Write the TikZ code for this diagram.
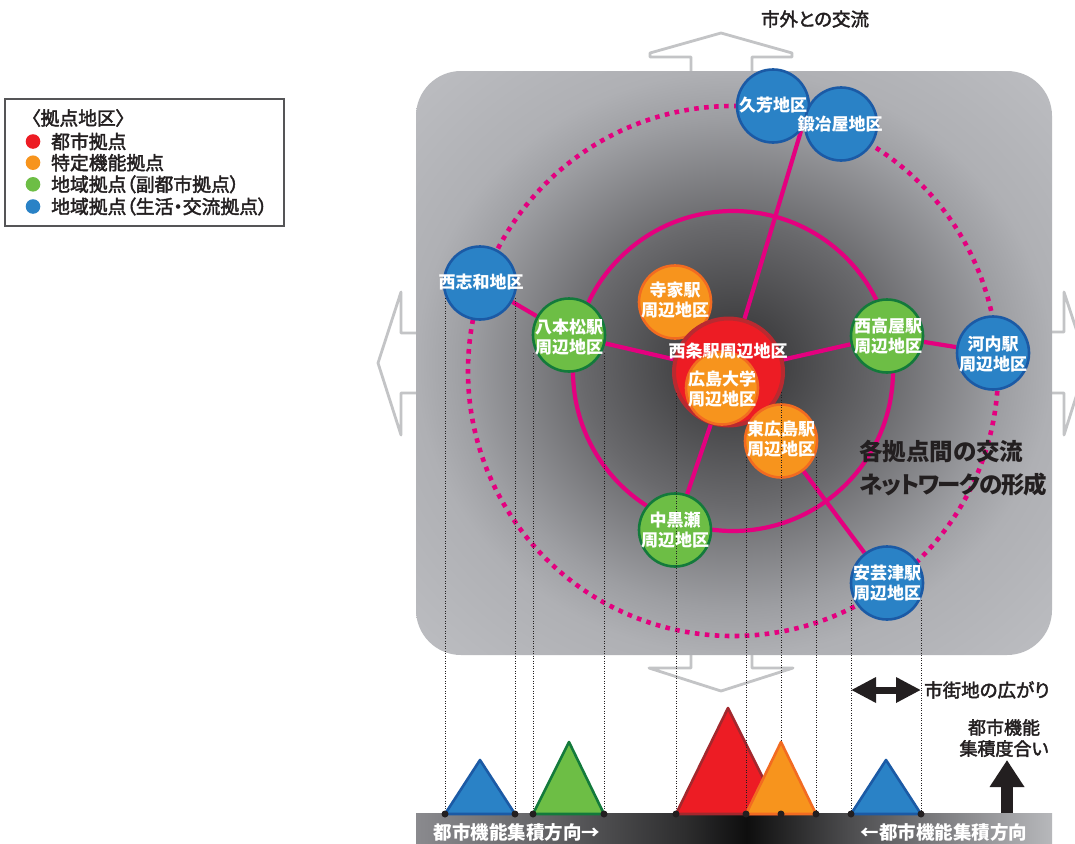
\documentclass[tikz,border=0pt]{standalone}
\usepackage{fontspec}
\setmainfont{Noto Sans CJK JP}[RawFeature=+palt]
\newfontfamily\jpm{Noto Sans CJK JP}[RawFeature=+palt, FakeBold=2.2]
\usetikzlibrary{arrows.meta,shapes.geometric}
\definecolor{mag}{HTML}{E4007F}
\definecolor{nodeB}{HTML}{2A82C6}
\definecolor{nodeBd}{HTML}{1B5AA5}
\definecolor{nodeG}{HTML}{6DBE45}
\definecolor{nodeGd}{HTML}{137A3B}
\definecolor{nodeO}{HTML}{F7941D}
\definecolor{nodeOd}{HTML}{F26B21}
\definecolor{nodeR}{HTML}{ED1C24}
\definecolor{nodeRd}{HTML}{B92A30}
\definecolor{triRd}{HTML}{A3282D}
\definecolor{arrG}{HTML}{C3C4C6}
\definecolor{txt}{HTML}{231F20}
\definecolor{legB}{HTML}{555557}
\definecolor{bgA}{HTML}{38383A}
\definecolor{bgB}{HTML}{434345}
\definecolor{bgC}{HTML}{69696C}
\definecolor{bgD}{HTML}{9D9EA2}
\definecolor{bgE}{HTML}{AFB0B4}
\definecolor{bgF}{HTML}{BCBDC1}
\definecolor{barA}{HTML}{8A8A8E}
\definecolor{barB}{HTML}{646467}
\definecolor{barC}{HTML}{2E2E2F}
\definecolor{barD}{HTML}{0E0E0E}
\definecolor{barE}{HTML}{4C4C4E}
\definecolor{barF}{HTML}{838386}
\definecolor{barG}{HTML}{B7B8BB}
\pgfdeclareradialshading{bgshade}{\pgfpoint{0bp}{0bp}}{color(0bp)=(bgA); color(4bp)=(bgB); color(12bp)=(bgC); color(21bp)=(bgD); color(25bp)=(bgE); color(35bp)=(bgF); color(50bp)=(bgF)}
\pgfdeclarehorizontalshading{barshade}{100bp}{color(0bp)=(barA); color(25bp)=(barA); color(35bp)=(barB); color(46bp)=(barC); color(51bp)=(barD); color(59bp)=(barE); color(67bp)=(barF); color(75bp)=(barG); color(100bp)=(barG)}
\pgfdeclarelayer{bg}
\pgfsetlayers{bg,main}
\tikzset{
  garrow/.style={draw=arrG, line width=2.8, fill=white, line join=round},
  spoke/.style={draw=mag, line width=4.2},
  hub/.style={ellipse, inner sep=0, minimum width=72, minimum height=73, line width=2.6},
  bluehub/.style={hub, fill=nodeB, draw=nodeBd},
  greenhub/.style={hub, fill=nodeG, draw=nodeGd},
  orangehub/.style={hub, fill=nodeO, draw=nodeOd},
  redhub/.style={hub, fill=nodeR, draw=nodeRd, minimum width=109, minimum height=107, line width=4},
  lab/.style={text=white, inner sep=0, align=center, font=\bfseries\fontsize{17}{19.5}\selectfont},
  vdot/.style={draw=txt, line width=0.8, dash pattern=on 1.1pt off 1.4pt},
  bdot/.style={circle, fill=txt, inner sep=0, minimum size=7},
  legdot/.style={circle, inner sep=0, minimum size=14.6},
  legtxt/.style={anchor=west, inner sep=0, text=txt, font=\jpm\fontsize{18.8}{21}\selectfont},
  plain/.style={inner sep=0, text=txt, align=center, font=\jpm\fontsize{18.5}{21}\selectfont},
  bartxt/.style={inner sep=0, text=white, font=\bfseries\fontsize{18.5}{21}\selectfont},
  tri/.style={line width=2.6, line join=round}
}
\begin{document}
\begin{tikzpicture}[x=1pt,y=-1pt]
\useasboundingbox (0,0) rectangle (1075,843);
\clip (0,0) rectangle (1075,843);
% ---------- nodes (districts) ----------
\node[bluehub] (kuga) at (773,106) {};
\node[bluehub] (kajiya) at (841,124) {};
\node[bluehub] (shiwa) at (480,283) {};
\node[greenhub] (hachi) at (569,335) {};
\node[orangehub] (jike) at (675,302) {};
\node[redhub] (saijo) at (728.5,372) {};
\node[orangehub] (hirodai) at (722,388) {};
\node[orangehub] (higashi) at (781,441) {};
\node[greenhub] (takaya) at (887,336) {};
\node[bluehub] (kouchi) at (993,353) {};
\node[greenhub] (kurose) at (675,530) {};
\node[bluehub] (akitsu) at (887,583) {};
% ---------- background layer ----------
\begin{pgfonlayer}{bg}
\fill[white] (0,0) rectangle (1075,843);
\draw[garrow] (691,75) -- (691,57) -- (650,57) -- (650,53) -- (721,33) -- (792,53) -- (792,57) -- (752,57) -- (752,75);
\draw[garrow] (691,650) -- (691,668) -- (649,668) -- (721,691) -- (793,668) -- (752,668) -- (752,650);
\draw[garrow] (420,333) -- (401,333) -- (401,292) -- (378,363) -- (401,435) -- (401,393) -- (420,393);
\draw[garrow] (1048,332) -- (1064,332) -- (1064,292) -- (1087,362) -- (1064,435) -- (1064,393) -- (1048,393);
\path[shade, shading=bgshade, rounded corners=45] (416,71) rectangle (1052,655);
\draw[mag, line width=4.6, dash pattern=on 4.6pt off 5.4pt] (733,371) circle[radius=265];
\draw[mag, line width=4.2] (733,371) circle[radius=160];
\coordinate (kjunc) at (801,131);
\draw[spoke] (kjunc) -- (saijo);
\draw[spoke] (shiwa) -- (hachi);
\draw[spoke] (hachi) -- (saijo);
\draw[spoke] (saijo) -- (takaya);
\draw[spoke] (takaya) -- (kouchi);
\draw[spoke] (saijo) -- (kurose);
\draw[spoke] (higashi) -- (akitsu);
\end{pgfonlayer}
% ---------- bottom bar and triangles ----------
\path[shade, shading=barshade] (416,813) rectangle (1052,843);
\coordinate (b1) at (445,814);
\coordinate (b2) at (515,814);
\coordinate (b3) at (533,814);
\coordinate (b4) at (604,814);
\coordinate (b5) at (676,814);
\coordinate (b6) at (746,814);
\coordinate (b7) at (781,814);
\coordinate (b8) at (816,814);
\coordinate (b9) at (851,814);
\coordinate (b10) at (921,814);
\filldraw[tri, fill=nodeB, draw=nodeBd] (b1) -- (480,760) -- (b2) -- cycle;
\filldraw[tri, fill=nodeG, draw=nodeGd] (b3) -- (569,742) -- (b4) -- cycle;
\filldraw[tri, fill=nodeR, draw=triRd] (b5) -- (728,708) -- (b7) -- cycle;
\filldraw[tri, fill=nodeB, draw=nodeBd] (b9) -- (886,760) -- (b10) -- cycle;
% ---------- projection lines ----------
\coordinate (v1) at (445,298);
\coordinate (v2) at (515,298);
\coordinate (v3) at (533,353);
\coordinate (v4) at (604,353);
\coordinate (v5) at (676,393);
\coordinate (v6) at (746,457);
\coordinate (v7) at (781,392);
\coordinate (v8) at (816,457);
\coordinate (v9) at (851,600);
\coordinate (v10) at (921,600);
\foreach \i in {1,...,10} { \draw[vdot] (v\i) -- (b\i); }
\filldraw[tri, fill=nodeO, draw=nodeOd] (b6) -- (781,742) -- (b8) -- cycle;
\foreach \i in {1,...,10} { \node[bdot] (d\i) at (b\i) {}; }
% ---------- district labels ----------
\node[lab] (kugaT) at (773,105) {久芳地区};
\node[lab] (kajiyaT) at (840,124) {鍛冶屋地区};
\node[lab] (shiwaT) at (481,282) {西志和地区};
\node[lab] (hachiT) at (569,337) {八本松駅\\周辺地区};
\node[lab] (jikeT) at (675,300) {寺家駅\\周辺地区};
\node[lab] (saijoT) at (728,351) {西条駅周辺地区};
\node[lab] (hirodaiT) at (722,389) {広島大学\\周辺地区};
\node[lab] (higashiT) at (781,439) {東広島駅\\周辺地区};
\node[lab] (takayaT) at (888,336) {西高屋駅\\周辺地区};
\node[lab] (kouchiT) at (993,354) {河内駅\\周辺地区};
\node[lab] (kuroseT) at (675,530) {中黒瀬\\周辺地区};
\node[lab] (akitsuT) at (887,583) {安芸津駅\\周辺地区};
% ---------- other texts ----------
\node[anchor=west, inner sep=0, align=left, text=txt, font=\bfseries\fontsize{23.5}{33}\selectfont] (net) at (859,468) {各拠点間の交流\\{\addfontfeatures{LetterSpace=-6}ネットワークの形成}};
\node[plain] (outside) at (815,19) {市外との交流};
\node[plain, anchor=west] (spread) at (924,690) {市街地の広がり};
\node[plain, font=\jpm\fontsize{18}{21}\selectfont] (degree) at (1004,738) {都市機能\\集積度合い};
\node[bartxt] (dirL) at (517,832) {都市機能集積方向→};
\node[bartxt] (dirR) at (944,832) {←都市機能集積方向};
% ---------- black arrows ----------
\coordinate (spL) at (851,690);
\coordinate (spR) at (921,690);
\draw[line width=7, txt, {Triangle[length=25pt,width=24pt]}-{Triangle[length=25pt,width=24pt]}] (spL) -- (spR);
\coordinate (upB) at (1007,813);
\coordinate (upT) at (1007,760);
\draw[line width=12, txt, -{Triangle[length=27pt,width=33pt]}] (upB) -- (upT);
% ---------- legend ----------
\draw[legB, line width=1.2] (5,99) rectangle (284,226);
\node[legtxt] (legH) at (31,118) {〈拠点地区〉};
\node[legdot, fill=nodeR] (ld1) at (33,141.5) {};
\node[legtxt] (lt1) at (51,141.5) {都市拠点};
\node[legdot, fill=nodeO] (ld2) at (33,162.7) {};
\node[legtxt] (lt2) at (51,162.7) {特定機能拠点};
\node[legdot, fill=nodeG] (ld3) at (33,184.3) {};
\node[legtxt] (lt3) at (51,184.3) {地域拠点（副都市拠点）};
\node[legdot, fill=nodeB] (ld4) at (33,206.5) {};
\node[legtxt] (lt4) at (51,206.5) {地域拠点（生活・交流拠点）};
\end{tikzpicture}
\end{document}
